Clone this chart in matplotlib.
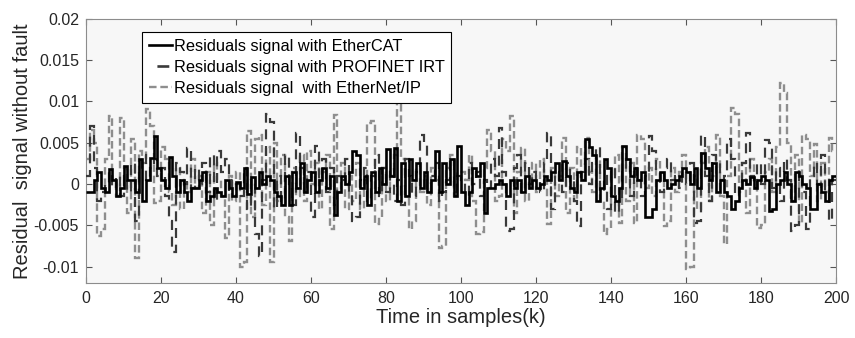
import matplotlib
matplotlib.use("Agg")
import matplotlib.pyplot as plt
from matplotlib.lines import Line2D
import numpy as np

plt.rcParams['font.family'] = ['Liberation Sans', 'DejaVu Sans']

# residual values, in units of 1e-3
ethercat = [
    -1.0, -1.0, 0.5, 1.5, -0.5, -1.0, 1.8, 0.5, -1.5, -0.5,
    2.2, 0.5, 0.5, -1.0, 3.0, -2.0, 0.5, 3.2, 5.8, 2.0,
    0.5, -0.5, 3.3, 1.0, -1.0, 0.5, -1.0, -2.0, -0.5, -0.5,
    0.5, 1.5, -2.0, -1.5, -0.5, -1.0, -1.5, 0.5, -0.5, -1.5,
    0.2, -0.5, 2.0, -1.2, 0.8, -0.5, 1.5, 0.0, 1.0, 0.5,
    -1.0, -1.5, -2.5, 1.0, -2.5, 1.5, -0.5, 2.5, -1.0, 0.5,
    1.5, -1.0, 0.5, 2.0, -0.5, 1.0, -3.7, -1.0, 1.0, 0.0,
    1.5, 4.0, 3.5, -0.5, 1.0, -2.5, 1.5, -1.0, 2.0, 0.0,
    4.3, 1.0, 4.4, -2.0, 2.5, -1.5, 3.0, 0.5, 2.5, -0.5,
    1.5, -1.0, 0.5, 4.0, -1.0, 2.5, 0.0, 3.0, -1.5, 4.6,
    -1.0, -2.5, -1.0, 2.0, 1.0, 2.5, -3.5, -0.5, -0.5, 0.0,
    0.5, 0.0, -1.5, 0.5, -0.5, 0.5, -1.0, 1.0, -0.5, 0.5,
    -0.5, 0.0, 1.0, 0.5, 1.5, 2.5, 0.5, 2.8, 1.0, -0.5,
    -1.0, 1.5, 0.5, 5.4, 4.5, 3.5, -2.0, -0.5, 3.0, 2.0,
    -1.5, -2.0, -0.5, 4.6, 3.0, 1.0, 2.0, 0.5, 1.5, -4.0,
    -4.0, -3.0, 0.5, 1.5, 0.5, -0.5, 0.0, 0.5, 1.0, 2.0,
    1.5, 0.0, 2.0, -0.5, 3.8, 2.0, 0.5, 2.5, -1.0, 0.5,
    -1.0, -1.5, -3.0, -2.0, -0.5, 0.5, 0.0, 0.8, -0.5, 0.5,
    1.0, 0.5, -3.3, -3.0, 0.0, 0.5, 1.5, 0.0, -2.0, 1.5,
    1.0, 0.0, -0.5, -3.0, -3.0, 0.0, -1.0, -2.0, 0.5, 1.0,
]
profinet = [
    1.0, 7.0, 2.0, -2.0, -1.0, 0.0, 1.5, -0.5, 1.0, -1.5,
    1.0, -1.0, 2.5, -4.5, 1.5, 3.5, 0.5, 2.0, 3.0, 1.0,
    2.0, -1.5, -4.5, -8.3, 2.5, 1.5, 0.0, 4.4, -0.5, 2.0,
    0.0, 2.5, -1.0, 3.5, -2.0, 4.0, 1.5, 3.0, -1.0, 0.5,
    0.0, -1.5, 2.0, -3.0, 0.5, -6.0, -8.7, 0.5, 8.5, 7.5,
    -3.0, 1.0, -2.0, 3.5, 0.0, -2.5, 6.2, 2.0, -1.0, 1.5,
    -4.0, 4.6, 0.5, 3.0, -1.0, 2.0, -2.5, 1.0, 0.5, 3.0,
    -1.0, -4.5, -4.0, 0.5, 2.0, -2.0, 1.0, 3.5, -1.5, 2.0,
    -1.0, 2.0, -2.0, 0.5, -2.5, 3.0, 1.0, -1.5, 1.5, 6.0,
    5.0, -1.0, 1.0, 2.5, -2.0, -1.0, 0.5, 3.0, -1.0, 1.0,
    0.5, -1.5, 2.5, 0.0, 1.5, -1.5, 0.5, -0.5, 3.0, 1.0,
    6.8, 1.5, -5.7, -5.5, 2.0, 3.5, -1.0, 2.5, 0.0, 1.5,
    0.5, -1.0, 2.5, 6.2, -3.0, 1.5, 0.0, -1.0, 2.5, 0.5,
    -2.0, -5.1, 1.5, 3.0, 0.0, 2.5, 4.5, -1.0, 1.0, -3.0,
    2.0, -3.5, -2.0, 1.5, 3.0, -1.5, 2.0, 0.5, -1.5, 1.0,
    5.8, 4.0, 1.5, -1.0, 2.0, 3.0, 0.5, 1.0, -0.5, 1.5,
    0.0, 2.5, -4.7, -4.5, 5.9, 1.0, -2.0, 3.5, 2.5, 0.5,
    1.0, 5.5, 3.0, -1.5, 0.0, 2.5, 6.2, 1.0, -0.5, 2.5,
    0.0, 5.3, 5.0, -0.5, 2.0, -2.0, 3.0, 0.5, -5.7, -5.0,
    1.5, -1.0, -5.5, 1.0, 2.5, 0.0, 3.5, -1.0, -4.5, 0.5,
]
ethernet_ip = [
    3.0, 6.5, 5.0, -6.3, -5.5, 3.0, 8.3, 0.5, -1.5, 8.0,
    2.0, -3.5, 5.5, -9.0, 4.0, 2.5, 9.1, 7.0, -2.3, -2.0,
    4.5, 3.0, -1.0, -2.5, 2.0, -3.0, 0.5, -1.0, 3.0, -0.5,
    1.0, -3.5, 1.5, -5.0, 2.5, 0.5, -1.5, -6.5, 1.0, -2.0,
    1.5, -10.0, -9.5, 6.4, -4.0, 5.5, 6.0, -2.5, 4.5, -9.5,
    5.0, -2.0, 3.5, -4.0, -6.9, 2.0, -1.5, 3.5, -2.0, 4.0,
    0.0, 2.5, -3.0, 1.5, 3.5, -5.5, 8.4, -1.0, 2.5, -3.0,
    1.0, -2.0, 2.5, -3.0, 0.5, 7.4, 7.6, -4.9, -4.0, 2.0,
    -2.0, 1.0, 3.5, 10.0, 3.0, -1.5, -5.5, -4.5, 2.0, -1.0,
    1.0, -2.5, 2.0, 0.5, -7.7, -7.5, 2.0, 3.5, -1.5, 1.5,
    1.5, 0.5, 3.5, -2.0, -6.0, -5.8, 2.0, 6.6, 4.0, -2.0,
    -1.5, 5.5, 4.0, 8.3, -3.5, 1.5, 4.4, -2.0, 0.5, 2.5,
    -1.0, 3.0, 1.0, -4.9, 2.0, -1.5, 1.0, 5.6, -3.5, 2.0,
    -2.0, 4.5, 0.5, 5.6, 1.5, -1.0, 3.0, -2.0, -6.1, -5.5,
    1.0, 3.5, -4.7, 4.5, -2.0, 2.5, -4.7, 6.0, 5.5, -0.5,
    2.0, -1.5, 3.0, 0.5, -5.1, -4.5, 2.0, -1.0, 1.5, 3.5,
    -10.3, -10.0, 1.0, -3.0, 2.5, 4.5, -2.0, 1.0, 5.9, -1.5,
    -7.3, 1.0, 9.2, 8.5, -1.0, 2.5, -3.5, 3.0, 0.5, -5.3,
    -5.0, 1.5, 3.0, -1.0, 4.5, 12.2, 11.0, 5.0, -2.0, 3.5,
    -4.7, 6.0, 5.5, 1.0, 4.8, -2.0, 2.5, -1.0, 5.6, 4.0,
]

labels = ['Residuals signal with EtherCAT',
          'Residuals signal with PROFINET IRT',
          'Residuals signal  with EtherNet/IP']
xticks = [0, 20, 40, 60, 80, 100, 120, 140, 160, 180, 200]
yticks = [-0.01, -0.005, 0, 0.005, 0.01, 0.015, 0.02]
ytick_labels = ['-0.01', '-0.005', '0', '0.005', '0.01', '0.015', '0.02']

edges = np.arange(len(ethercat) + 1)
s1 = np.array(ethercat) * 1e-3
s2 = np.array(profinet) * 1e-3
s3 = np.array(ethernet_ip) * 1e-3

fig = plt.figure(figsize=(8.55, 3.38), dpi=100)
ax = fig.add_axes([0.1006, 0.1627, 0.8772, 0.7811])
ax.set_facecolor('#f7f7f7')

ax.stairs(s3, edges, baseline=None, color='#8e8e8e', lw=1.7,
          linestyle=(0, (3.2, 1.6)), zorder=2)
ax.stairs(s2, edges, baseline=None, color='#3a3a3a', lw=1.6,
          linestyle=(0, (4.5, 3.0)), zorder=3)
ax.stairs(s1, edges, baseline=None, color='black', lw=1.9, zorder=4)

ax.set_xlim(0, 200)
ax.set_ylim(-0.012, 0.02)
ax.set_xticks(xticks)
ax.set_yticks(yticks)
ax.set_yticklabels(ytick_labels)
ax.tick_params(direction='in', top=True, right=True, labelsize=11.5,
               color='#555555', length=4, labelcolor='#262626')
ax.tick_params(axis='x', pad=6)
ax.tick_params(axis='y', pad=5)
for sp in ax.spines.values():
    sp.set_color('#8c8c8c')
    sp.set_linewidth(0.8)

ax.set_xlabel('Time in samples(k)', fontsize=14.5, color='#262626', labelpad=1)
ax.set_ylabel('Residual  signal without fault', fontsize=14.5, color='#262626', labelpad=1)

h1 = Line2D([], [], color='black', lw=1.9)
h2 = Line2D([], [], color='#3a3a3a', lw=1.9, linestyle=(0, (0.001, 3.0, 4.5, 40)))
h3 = Line2D([], [], color='#8e8e8e', lw=1.7, linestyle=(0, (3.2, 1.6)))
leg = ax.legend([h1, h2, h3], labels, loc='upper left',
                bbox_to_anchor=(142 / 855, 1 - 32 / 338),
                bbox_transform=fig.transFigure, borderaxespad=0,
                fontsize=11.8, frameon=True, fancybox=False,
                handlelength=1.4, handletextpad=0.15, labelspacing=0.38,
                borderpad=0.4)
leg.get_frame().set_edgecolor('black')
leg.get_frame().set_linewidth(0.8)
leg.get_frame().set_facecolor('white')
leg.get_frame().set_alpha(1)

fig.savefig('out.png', dpi=100)
